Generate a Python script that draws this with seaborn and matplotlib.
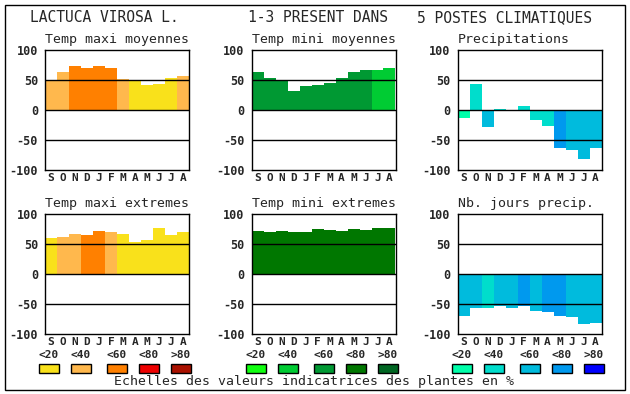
import matplotlib
matplotlib.use('Agg')
import matplotlib.pyplot as plt
import seaborn as sns
import pandas as pd
from matplotlib.patches import Rectangle

# months Sept -> Aug
months = ['S', 'O', 'N', 'D', 'J', 'F', 'M', 'A', 'M', 'J', 'J', 'A']

# values (% indicator) and class index (0:<20, 1:<40, 2:<60, 3:<80, 4:>80)
tmax_moy = [50, 64, 73, 70, 73, 70, 52, 49, 41, 44, 53, 57]
tmax_moy_cls = [1, 1, 2, 2, 2, 2, 1, 0, 0, 0, 0, 1]
tmin_moy = [64, 53, 50, 32, 40, 42, 45, 53, 64, 67, 67, 70]
tmin_moy_cls = [2, 2, 2, 2, 2, 2, 2, 2, 2, 2, 1, 1]
precip = [-14, 43, -28, 2, 0, 7, -16, -26, -63, -66, -81, -64]
precip_cls = [0, 1, 2, 1, 1, 1, 1, 1, 3, 2, 2, 2]
tmax_ext = [60, 62, 67, 65, 72, 70, 67, 54, 57, 77, 65, 70]
tmax_ext_cls = [0, 1, 1, 2, 2, 1, 0, 0, 0, 0, 0, 0]
tmin_ext = [72, 70, 72, 70, 70, 75, 74, 72, 75, 74, 77, 77]
tmin_ext_cls = [3] * 12
jours = [-70, -57, -56, -54, -57, -54, -61, -64, -70, -72, -84, -81]
jours_cls = [2, 2, 1, 2, 2, 3, 2, 3, 3, 2, 2, 2]

class_labels = ['<20', '<40', '<60', '<80', '>80']
red_pal = ['#F9E11B', '#FFB84D', '#FF8000', '#EE0000', '#AA1100']
green_pal = ['#11FF11', '#00CC33', '#009933', '#007700', '#006622']
blue_pal = ['#00FFAA', '#00DDCC', '#00BBDD', '#0099EE', '#0000FF']

main_title = ['LACTUCA VIROSA L.', '1-3 PRESENT DANS', '5 POSTES CLIMATIQUES']
footer = 'Echelles des valeurs indicatrices des plantes en %'

sns.set_theme(style='white')
plt.rcParams['font.family'] = ['DejaVu Sans Mono']

W, H = 630, 394
fig = plt.figure(figsize=(W / 100, H / 100), dpi=100)

lefts = [45, 251.5, 457.5]
tops = [50, 214]
aw, ah = 144, 120

panels = [
    ('Temp maxi moyennes', tmax_moy, tmax_moy_cls, red_pal, 0, 0),
    ('Temp mini moyennes', tmin_moy, tmin_moy_cls, green_pal, 0, 1),
    ('Precipitations', precip, precip_cls, blue_pal, 0, 2),
    ('Temp maxi extremes', tmax_ext, tmax_ext_cls, red_pal, 1, 0),
    ('Temp mini extremes', tmin_ext, tmin_ext_cls, green_pal, 1, 1),
    ('Nb. jours precip.', jours, jours_cls, blue_pal, 1, 2),
]

for title, vals, cls, pal, r, c in panels:
    x0 = lefts[c]
    y0 = tops[r]
    ax = fig.add_axes([x0 / W, 1 - (y0 + ah) / H, aw / W, ah / H])
    df = pd.DataFrame({'m': list(range(12)), 'v': vals,
                       'col': [pal[k] for k in cls]})
    sns.barplot(data=df, x='m', y='v', hue='m', palette=list(df['col']),
                width=1.0, legend=False, ax=ax, linewidth=0, saturation=1)
    for yl in (-50, 0, 50):
        ax.axhline(yl, color='black', lw=1.0, zorder=5)
    ax.set_xlim(-0.5, 11.5)
    ax.set_ylim(-100, 100)
    ax.set_yticks([-100, -50, 0, 50, 100])
    ax.set_yticklabels(['-100', '-50', '0', '50', '100'],
                       fontsize=8.5, fontweight='bold')
    ax.set_xticks(range(12))
    ax.set_xticklabels(months, fontsize=8, fontweight='bold')
    ax.tick_params(axis='x', length=0, pad=2)
    ax.tick_params(axis='y', length=0, pad=5)
    ax.set_xlabel('')
    ax.set_ylabel('')
    ax.set_facecolor('white')
    for s in ax.spines.values():
        s.set_color('black')
        s.set_linewidth(1.0)
    fig.text(x0 / W, 1 - (y0 - 11) / H, title, fontsize=9.5,
             ha='left', va='center')

# legend boxes under bottom row
box_off = [-6, 26, 62, 94, 126]
for c, pal in enumerate([red_pal, green_pal, blue_pal]):
    for k in range(5):
        bx = lefts[c] + box_off[k]
        fig.add_artist(Rectangle((bx / W, 1 - 373 / H), 20 / W, 9 / H,
                                 facecolor=pal[k], edgecolor='black',
                                 lw=1.0, transform=fig.transFigure))
        fig.text((bx + 10) / W, 1 - 355.5 / H, class_labels[k], fontsize=8,
                 fontweight='bold', ha='center', va='center')

# main title
for tx, s in zip([30, 248, 417], main_title):
    fig.text(tx / W, 1 - 18 / H, s, fontsize=10.5, ha='left', va='center')

fig.text(314 / W, 1 - 382 / H, footer, fontsize=9.5, ha='center', va='center')

# outer frame
fig.add_artist(Rectangle((5 / W, 1 - 389.5 / H), 619.5 / W, 385 / H,
                         facecolor='none', edgecolor='black', lw=1.0,
                         transform=fig.transFigure))

fig.savefig('out.png', dpi=100, facecolor='white')
